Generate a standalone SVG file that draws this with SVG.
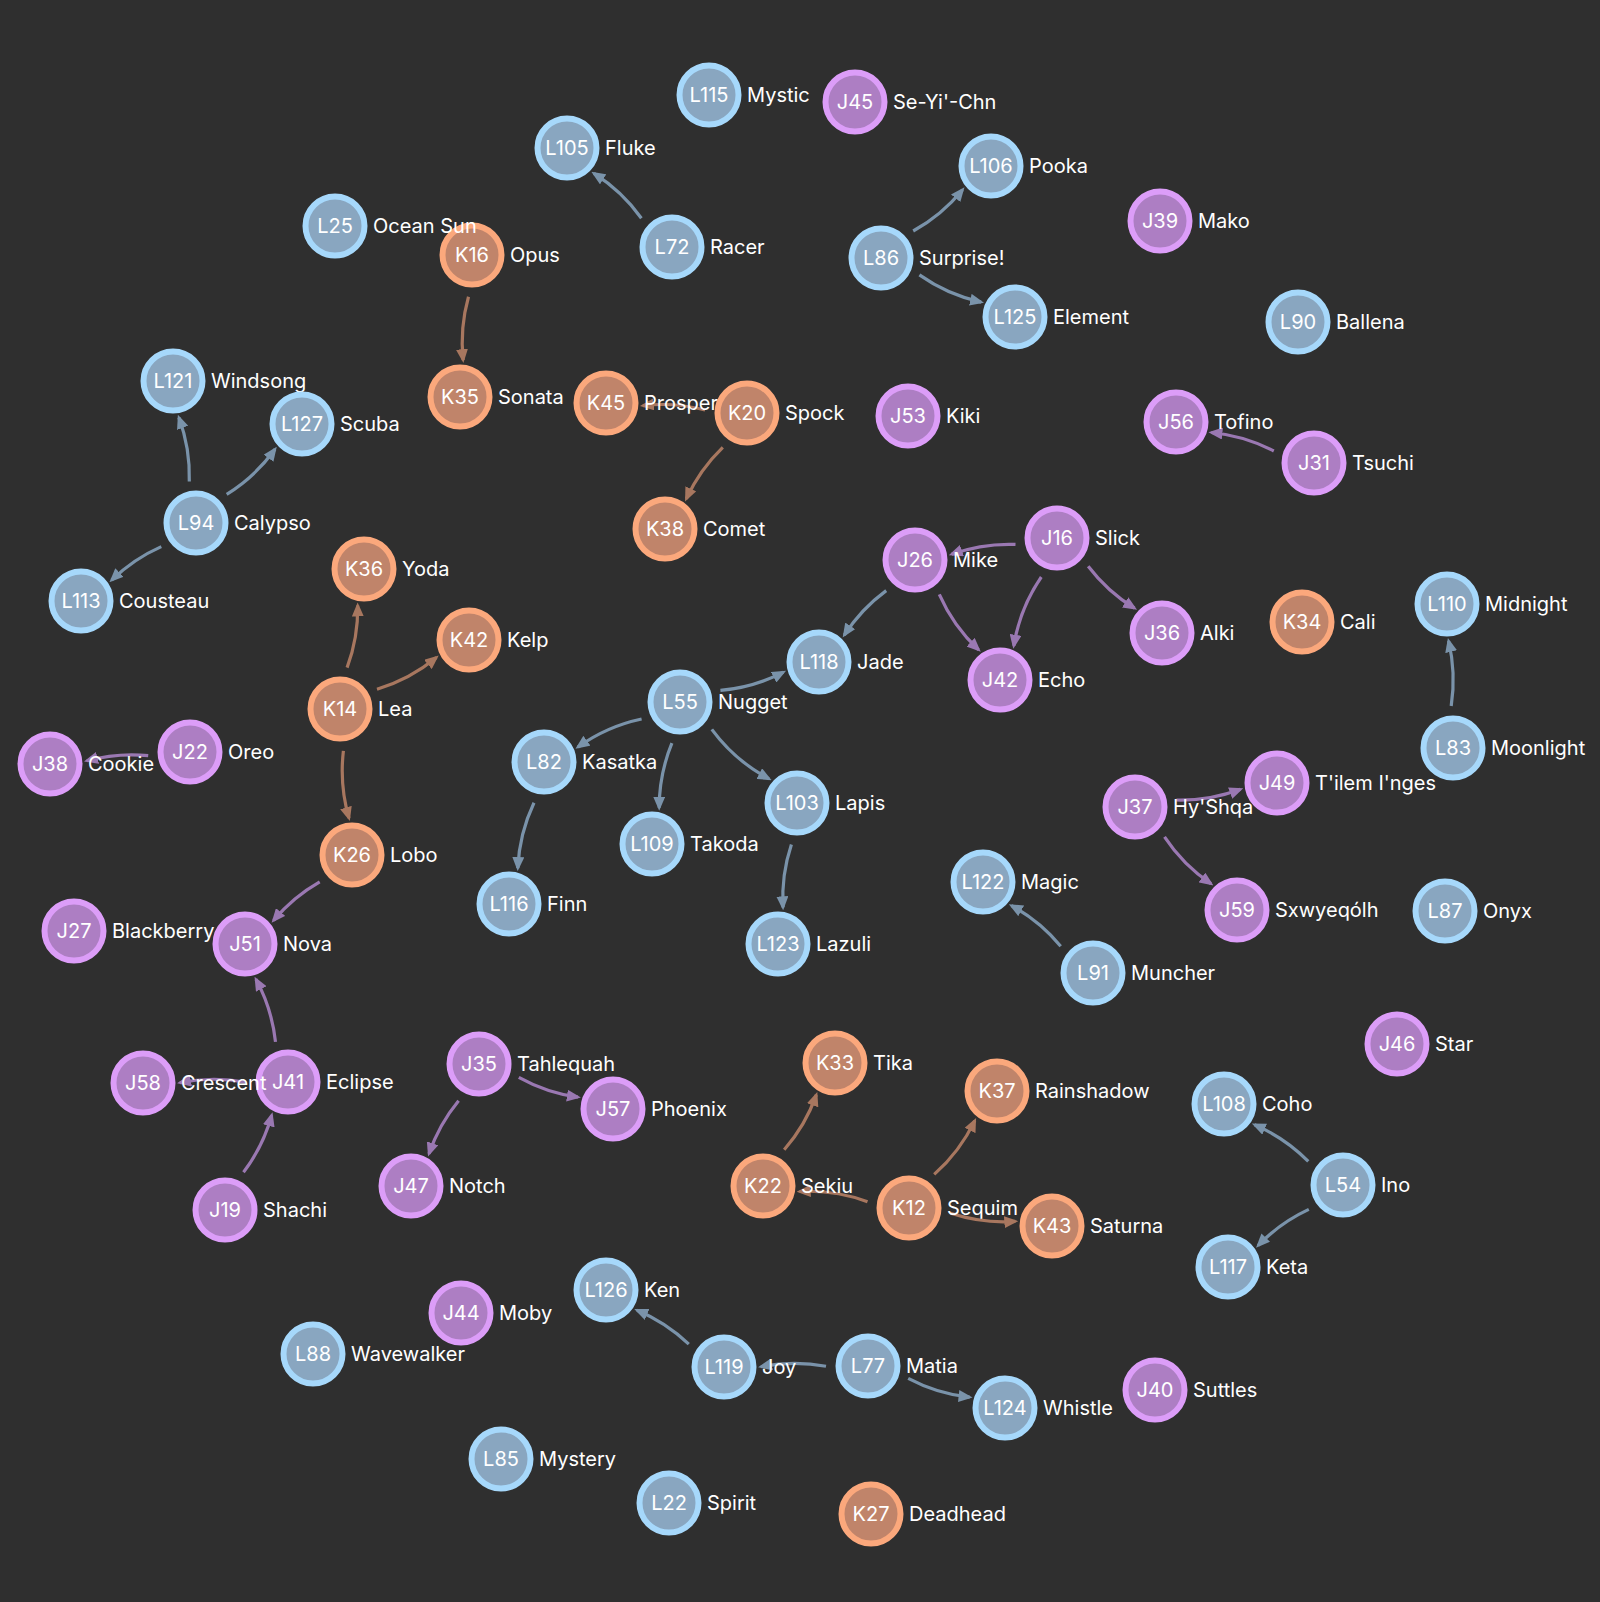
<svg xmlns="http://www.w3.org/2000/svg" width="1600" height="1602" viewBox="0 0 1600 1602">
<defs>
<style>
.bg{fill:#2f2f2f}
.e{fill:none;stroke-width:3.2}
.eL{stroke:#7a93aa}
.eJ{stroke:#9a78b2}
.eK{stroke:#a8775f}
.mL{marker-end:url(#aL)}
.mJ{marker-end:url(#aJ)}
.mK{marker-end:url(#aK)}
circle{stroke-width:6}
.L circle{fill:#89a6c0;stroke:#a6d8fb}
.K circle{fill:#c0846a;stroke:#fba87c}
.J circle{fill:#ad7ec3;stroke:#dc9df8}
text{font-family:Inter,"Noto Sans","Liberation Sans",sans-serif;font-size:20px;fill:#ffffff}
.id{text-anchor:middle}
</style>
<marker id="aL" markerUnits="userSpaceOnUse" markerWidth="14" markerHeight="12" refX="11" refY="6" orient="auto" viewBox="0 0 14 12"><path d="M0,0 L14,6 L0,12 Z" fill="#7a93aa"/></marker>
<marker id="aJ" markerUnits="userSpaceOnUse" markerWidth="14" markerHeight="12" refX="11" refY="6" orient="auto" viewBox="0 0 14 12"><path d="M0,0 L14,6 L0,12 Z" fill="#9a78b2"/></marker>
<marker id="aK" markerUnits="userSpaceOnUse" markerWidth="14" markerHeight="12" refX="11" refY="6" orient="auto" viewBox="0 0 14 12"><path d="M0,0 L14,6 L0,12 Z" fill="#a8775f"/></marker>
</defs>
<rect class="bg" x="0" y="0" width="1600" height="1602"/>
<g id="edges">
<path class="e eL mL" d="M641.4,218.2 A170,170 0 0 0 593.9,173.4"/>
<path class="e eL mL" d="M913.2,231.0 A170,170 0 0 0 962.6,189.7"/>
<path class="e eL mL" d="M919.4,274.9 A170,170 0 0 0 981.1,302.1"/>
<path class="e eK mK" d="M468.5,296.8 A170,170 0 0 0 463.1,360.1"/>
<path class="e eK mK" d="M705.1,410.0 A170,170 0 0 0 642.9,405.6"/>
<path class="e eK mK" d="M722.8,447.3 A170,170 0 0 0 686.3,498.8"/>
<path class="e eL mL" d="M189.3,481.5 A170,170 0 0 0 178.9,417.5"/>
<path class="e eL mL" d="M226.7,494.3 A170,170 0 0 0 275.0,449.3"/>
<path class="e eL mL" d="M161.3,546.6 A170,170 0 0 0 111.6,580.2"/>
<path class="e eJ mJ" d="M1273.8,451.0 A170,170 0 0 0 1211.4,432.5"/>
<path class="e eJ mJ" d="M1015.5,544.4 A170,170 0 0 0 951.6,554.3"/>
<path class="e eJ mJ" d="M1041.3,577.0 A170,170 0 0 0 1013.8,645.7"/>
<path class="e eJ mJ" d="M1088.2,566.2 A170,170 0 0 0 1134.5,608.2"/>
<path class="e eL mL" d="M886.2,590.6 A170,170 0 0 0 844.3,635.1"/>
<path class="e eJ mJ" d="M939.3,594.3 A170,170 0 0 0 978.6,649.8"/>
<path class="e eK mK" d="M347.1,667.6 A170,170 0 0 0 357.7,605.5"/>
<path class="e eK mK" d="M377.0,689.2 A170,170 0 0 0 436.4,657.5"/>
<path class="e eK mK" d="M343.4,750.9 A170,170 0 0 0 349.0,818.1"/>
<path class="e eJ mJ" d="M148.2,755.6 A170,170 0 0 0 86.9,760.8"/>
<path class="e eL mL" d="M720.4,690.4 A170,170 0 0 0 783.4,672.2"/>
<path class="e eL mL" d="M641.6,719.0 A170,170 0 0 0 577.9,747.1"/>
<path class="e eL mL" d="M671.9,743.2 A170,170 0 0 0 659.2,807.7"/>
<path class="e eL mL" d="M711.8,729.4 A170,170 0 0 0 769.0,778.8"/>
<path class="e eL mL" d="M534.0,802.8 A170,170 0 0 0 517.8,868.1"/>
<path class="e eL mL" d="M791.4,844.6 A170,170 0 0 0 783.0,907.3"/>
<path class="e eL mL" d="M1451.2,706.0 A170,170 0 0 0 1448.6,641.0"/>
<path class="e eJ mJ" d="M1176.4,800.0 A170,170 0 0 0 1240.5,789.2"/>
<path class="e eJ mJ" d="M1164.5,836.8 A170,170 0 0 0 1211.0,883.7"/>
<path class="e eJ mJ" d="M319.7,881.8 A170,170 0 0 0 273.5,920.4"/>
<path class="e eL mL" d="M1060.7,946.2 A170,170 0 0 0 1011.5,905.6"/>
<path class="e eJ mJ" d="M275.5,1041.9 A170,170 0 0 0 256.0,979.3"/>
<path class="e eJ mJ" d="M246.0,1082.3 A170,170 0 0 0 180.0,1082.7"/>
<path class="e eJ mJ" d="M243.5,1172.3 A170,170 0 0 0 271.7,1115.2"/>
<path class="e eJ mJ" d="M458.6,1100.7 A170,170 0 0 0 429.0,1153.7"/>
<path class="e eJ mJ" d="M518.8,1077.4 A170,170 0 0 0 577.9,1097.2"/>
<path class="e eK mK" d="M784.2,1149.8 A170,170 0 0 0 816.3,1094.9"/>
<path class="e eK mK" d="M867.5,1201.7 A170,170 0 0 0 799.6,1191.5"/>
<path class="e eK mK" d="M934.2,1174.4 A170,170 0 0 0 974.8,1120.6"/>
<path class="e eK mK" d="M950.7,1213.3 A170,170 0 0 0 1015.3,1221.4"/>
<path class="e eL mL" d="M1308.3,1161.4 A170,170 0 0 0 1254.6,1124.8"/>
<path class="e eL mL" d="M1308.8,1209.4 A170,170 0 0 0 1258.1,1245.5"/>
<path class="e eL mL" d="M688.8,1344.1 A170,170 0 0 0 637.0,1310.2"/>
<path class="e eL mL" d="M826.0,1366.3 A170,170 0 0 0 761.0,1366.7"/>
<path class="e eL mL" d="M908.2,1378.3 A170,170 0 0 0 969.6,1397.2"/>
</g>
<g id="n-L115" class="L" transform="translate(709,95)"><circle r="29.5"/><text class="id" dy="0.35em">L115</text><text x="38" dy="0.35em">Mystic</text></g>
<g id="n-J45" class="J" transform="translate(855,102)"><circle r="29.5"/><text class="id" dy="0.35em">J45</text><text x="38" dy="0.35em">Se-Yi'-Chn</text></g>
<g id="n-L105" class="L" transform="translate(567,148)"><circle r="29.5"/><text class="id" dy="0.35em">L105</text><text x="38" dy="0.35em">Fluke</text></g>
<g id="n-L106" class="L" transform="translate(991,166)"><circle r="29.5"/><text class="id" dy="0.35em">L106</text><text x="38" dy="0.35em">Pooka</text></g>
<g id="n-J39" class="J" transform="translate(1160,221)"><circle r="29.5"/><text class="id" dy="0.35em">J39</text><text x="38" dy="0.35em">Mako</text></g>
<g id="n-K16" class="K" transform="translate(472,255)"><circle r="29.5"/><text class="id" dy="0.35em">K16</text><text x="38" dy="0.35em">Opus</text></g>
<g id="n-L25" class="L" transform="translate(335,226)"><circle r="29.5"/><text class="id" dy="0.35em">L25</text><text x="38" dy="0.35em">Ocean Sun</text></g>
<g id="n-L72" class="L" transform="translate(672,247)"><circle r="29.5"/><text class="id" dy="0.35em">L72</text><text x="38" dy="0.35em">Racer</text></g>
<g id="n-L86" class="L" transform="translate(881,258)"><circle r="29.5"/><text class="id" dy="0.35em">L86</text><text x="38" dy="0.35em">Surprise!</text></g>
<g id="n-L125" class="L" transform="translate(1015,317)"><circle r="29.5"/><text class="id" dy="0.35em">L125</text><text x="38" dy="0.35em">Element</text></g>
<g id="n-L90" class="L" transform="translate(1298,322)"><circle r="29.5"/><text class="id" dy="0.35em">L90</text><text x="38" dy="0.35em">Ballena</text></g>
<g id="n-L121" class="L" transform="translate(173,381)"><circle r="29.5"/><text class="id" dy="0.35em">L121</text><text x="38" dy="0.35em">Windsong</text></g>
<g id="n-L127" class="L" transform="translate(302,424)"><circle r="29.5"/><text class="id" dy="0.35em">L127</text><text x="38" dy="0.35em">Scuba</text></g>
<g id="n-K35" class="K" transform="translate(460,397)"><circle r="29.5"/><text class="id" dy="0.35em">K35</text><text x="38" dy="0.35em">Sonata</text></g>
<g id="n-K45" class="K" transform="translate(606,403)"><circle r="29.5"/><text class="id" dy="0.35em">K45</text><text x="38" dy="0.35em">Prosper</text></g>
<g id="n-K20" class="K" transform="translate(747,413)"><circle r="29.5"/><text class="id" dy="0.35em">K20</text><text x="38" dy="0.35em">Spock</text></g>
<g id="n-J53" class="J" transform="translate(908,416)"><circle r="29.5"/><text class="id" dy="0.35em">J53</text><text x="38" dy="0.35em">Kiki</text></g>
<g id="n-J56" class="J" transform="translate(1176,422)"><circle r="29.5"/><text class="id" dy="0.35em">J56</text><text x="38" dy="0.35em">Tofino</text></g>
<g id="n-J31" class="J" transform="translate(1314,463)"><circle r="29.5"/><text class="id" dy="0.35em">J31</text><text x="38" dy="0.35em">Tsuchi</text></g>
<g id="n-L94" class="L" transform="translate(196,523)"><circle r="29.5"/><text class="id" dy="0.35em">L94</text><text x="38" dy="0.35em">Calypso</text></g>
<g id="n-K38" class="K" transform="translate(665,529)"><circle r="29.5"/><text class="id" dy="0.35em">K38</text><text x="38" dy="0.35em">Comet</text></g>
<g id="n-J16" class="J" transform="translate(1057,538)"><circle r="29.5"/><text class="id" dy="0.35em">J16</text><text x="38" dy="0.35em">Slick</text></g>
<g id="n-J26" class="J" transform="translate(915,560)"><circle r="29.5"/><text class="id" dy="0.35em">J26</text><text x="38" dy="0.35em">Mike</text></g>
<g id="n-K36" class="K" transform="translate(364,569)"><circle r="29.5"/><text class="id" dy="0.35em">K36</text><text x="38" dy="0.35em">Yoda</text></g>
<g id="n-L113" class="L" transform="translate(81,601)"><circle r="29.5"/><text class="id" dy="0.35em">L113</text><text x="38" dy="0.35em">Cousteau</text></g>
<g id="n-K42" class="K" transform="translate(469,640)"><circle r="29.5"/><text class="id" dy="0.35em">K42</text><text x="38" dy="0.35em">Kelp</text></g>
<g id="n-J36" class="J" transform="translate(1162,633)"><circle r="29.5"/><text class="id" dy="0.35em">J36</text><text x="38" dy="0.35em">Alki</text></g>
<g id="n-K34" class="K" transform="translate(1302,622)"><circle r="29.5"/><text class="id" dy="0.35em">K34</text><text x="38" dy="0.35em">Cali</text></g>
<g id="n-L110" class="L" transform="translate(1447,604)"><circle r="29.5"/><text class="id" dy="0.35em">L110</text><text x="38" dy="0.35em">Midnight</text></g>
<g id="n-L118" class="L" transform="translate(819,662)"><circle r="29.5"/><text class="id" dy="0.35em">L118</text><text x="38" dy="0.35em">Jade</text></g>
<g id="n-J42" class="J" transform="translate(1000,680)"><circle r="29.5"/><text class="id" dy="0.35em">J42</text><text x="38" dy="0.35em">Echo</text></g>
<g id="n-K14" class="K" transform="translate(340,709)"><circle r="29.5"/><text class="id" dy="0.35em">K14</text><text x="38" dy="0.35em">Lea</text></g>
<g id="n-L55" class="L" transform="translate(680,702)"><circle r="29.5"/><text class="id" dy="0.35em">L55</text><text x="38" dy="0.35em">Nugget</text></g>
<g id="n-J22" class="J" transform="translate(190,752)"><circle r="29.5"/><text class="id" dy="0.35em">J22</text><text x="38" dy="0.35em">Oreo</text></g>
<g id="n-J38" class="J" transform="translate(50,764)"><circle r="29.5"/><text class="id" dy="0.35em">J38</text><text x="38" dy="0.35em">Cookie</text></g>
<g id="n-L82" class="L" transform="translate(544,762)"><circle r="29.5"/><text class="id" dy="0.35em">L82</text><text x="38" dy="0.35em">Kasatka</text></g>
<g id="n-L83" class="L" transform="translate(1453,748)"><circle r="29.5"/><text class="id" dy="0.35em">L83</text><text x="38" dy="0.35em">Moonlight</text></g>
<g id="n-J49" class="J" transform="translate(1277,783)"><circle r="29.5"/><text class="id" dy="0.35em">J49</text><text x="38" dy="0.35em">T'ilem I'nges</text></g>
<g id="n-J37" class="J" transform="translate(1135,807)"><circle r="29.5"/><text class="id" dy="0.35em">J37</text><text x="38" dy="0.35em">Hy'Shqa</text></g>
<g id="n-L103" class="L" transform="translate(797,803)"><circle r="29.5"/><text class="id" dy="0.35em">L103</text><text x="38" dy="0.35em">Lapis</text></g>
<g id="n-L109" class="L" transform="translate(652,844)"><circle r="29.5"/><text class="id" dy="0.35em">L109</text><text x="38" dy="0.35em">Takoda</text></g>
<g id="n-K26" class="K" transform="translate(352,855)"><circle r="29.5"/><text class="id" dy="0.35em">K26</text><text x="38" dy="0.35em">Lobo</text></g>
<g id="n-L122" class="L" transform="translate(983,882)"><circle r="29.5"/><text class="id" dy="0.35em">L122</text><text x="38" dy="0.35em">Magic</text></g>
<g id="n-L116" class="L" transform="translate(509,904)"><circle r="29.5"/><text class="id" dy="0.35em">L116</text><text x="38" dy="0.35em">Finn</text></g>
<g id="n-J59" class="J" transform="translate(1237,910)"><circle r="29.5"/><text class="id" dy="0.35em">J59</text><text x="38" dy="0.35em">Sxwyeqólh</text></g>
<g id="n-L87" class="L" transform="translate(1445,911)"><circle r="29.5"/><text class="id" dy="0.35em">L87</text><text x="38" dy="0.35em">Onyx</text></g>
<g id="n-J51" class="J" transform="translate(245,944)"><circle r="29.5"/><text class="id" dy="0.35em">J51</text><text x="38" dy="0.35em">Nova</text></g>
<g id="n-J27" class="J" transform="translate(74,931)"><circle r="29.5"/><text class="id" dy="0.35em">J27</text><text x="38" dy="0.35em">Blackberry</text></g>
<g id="n-L123" class="L" transform="translate(778,944)"><circle r="29.5"/><text class="id" dy="0.35em">L123</text><text x="38" dy="0.35em">Lazuli</text></g>
<g id="n-L91" class="L" transform="translate(1093,973)"><circle r="29.5"/><text class="id" dy="0.35em">L91</text><text x="38" dy="0.35em">Muncher</text></g>
<g id="n-J46" class="J" transform="translate(1397,1044)"><circle r="29.5"/><text class="id" dy="0.35em">J46</text><text x="38" dy="0.35em">Star</text></g>
<g id="n-K33" class="K" transform="translate(835,1063)"><circle r="29.5"/><text class="id" dy="0.35em">K33</text><text x="38" dy="0.35em">Tika</text></g>
<g id="n-J35" class="J" transform="translate(479,1064)"><circle r="29.5"/><text class="id" dy="0.35em">J35</text><text x="38" dy="0.35em">Tahlequah</text></g>
<g id="n-J41" class="J" transform="translate(288,1082)"><circle r="29.5"/><text class="id" dy="0.35em">J41</text><text x="38" dy="0.35em">Eclipse</text></g>
<g id="n-J58" class="J" transform="translate(143,1083)"><circle r="29.5"/><text class="id" dy="0.35em">J58</text><text x="38" dy="0.35em">Crescent</text></g>
<g id="n-K37" class="K" transform="translate(997,1091)"><circle r="29.5"/><text class="id" dy="0.35em">K37</text><text x="38" dy="0.35em">Rainshadow</text></g>
<g id="n-J57" class="J" transform="translate(613,1109)"><circle r="29.5"/><text class="id" dy="0.35em">J57</text><text x="38" dy="0.35em">Phoenix</text></g>
<g id="n-L108" class="L" transform="translate(1224,1104)"><circle r="29.5"/><text class="id" dy="0.35em">L108</text><text x="38" dy="0.35em">Coho</text></g>
<g id="n-L54" class="L" transform="translate(1343,1185)"><circle r="29.5"/><text class="id" dy="0.35em">L54</text><text x="38" dy="0.35em">Ino</text></g>
<g id="n-J47" class="J" transform="translate(411,1186)"><circle r="29.5"/><text class="id" dy="0.35em">J47</text><text x="38" dy="0.35em">Notch</text></g>
<g id="n-K22" class="K" transform="translate(763,1186)"><circle r="29.5"/><text class="id" dy="0.35em">K22</text><text x="38" dy="0.35em">Sekiu</text></g>
<g id="n-K43" class="K" transform="translate(1052,1226)"><circle r="29.5"/><text class="id" dy="0.35em">K43</text><text x="38" dy="0.35em">Saturna</text></g>
<g id="n-K12" class="K" transform="translate(909,1208)"><circle r="29.5"/><text class="id" dy="0.35em">K12</text><text x="38" dy="0.35em">Sequim</text></g>
<g id="n-J19" class="J" transform="translate(225,1210)"><circle r="29.5"/><text class="id" dy="0.35em">J19</text><text x="38" dy="0.35em">Shachi</text></g>
<g id="n-L117" class="L" transform="translate(1228,1267)"><circle r="29.5"/><text class="id" dy="0.35em">L117</text><text x="38" dy="0.35em">Keta</text></g>
<g id="n-L126" class="L" transform="translate(606,1290)"><circle r="29.5"/><text class="id" dy="0.35em">L126</text><text x="38" dy="0.35em">Ken</text></g>
<g id="n-J44" class="J" transform="translate(461,1313)"><circle r="29.5"/><text class="id" dy="0.35em">J44</text><text x="38" dy="0.35em">Moby</text></g>
<g id="n-L88" class="L" transform="translate(313,1354)"><circle r="29.5"/><text class="id" dy="0.35em">L88</text><text x="38" dy="0.35em">Wavewalker</text></g>
<g id="n-L119" class="L" transform="translate(724,1367)"><circle r="29.5"/><text class="id" dy="0.35em">L119</text><text x="38" dy="0.35em">Joy</text></g>
<g id="n-L77" class="L" transform="translate(868,1366)"><circle r="29.5"/><text class="id" dy="0.35em">L77</text><text x="38" dy="0.35em">Matia</text></g>
<g id="n-L124" class="L" transform="translate(1005,1408)"><circle r="29.5"/><text class="id" dy="0.35em">L124</text><text x="38" dy="0.35em">Whistle</text></g>
<g id="n-J40" class="J" transform="translate(1155,1390)"><circle r="29.5"/><text class="id" dy="0.35em">J40</text><text x="38" dy="0.35em">Suttles</text></g>
<g id="n-L85" class="L" transform="translate(501,1459)"><circle r="29.5"/><text class="id" dy="0.35em">L85</text><text x="38" dy="0.35em">Mystery</text></g>
<g id="n-L22" class="L" transform="translate(669,1503)"><circle r="29.5"/><text class="id" dy="0.35em">L22</text><text x="38" dy="0.35em">Spirit</text></g>
<g id="n-K27" class="K" transform="translate(871,1514)"><circle r="29.5"/><text class="id" dy="0.35em">K27</text><text x="38" dy="0.35em">Deadhead</text></g>
</svg>
